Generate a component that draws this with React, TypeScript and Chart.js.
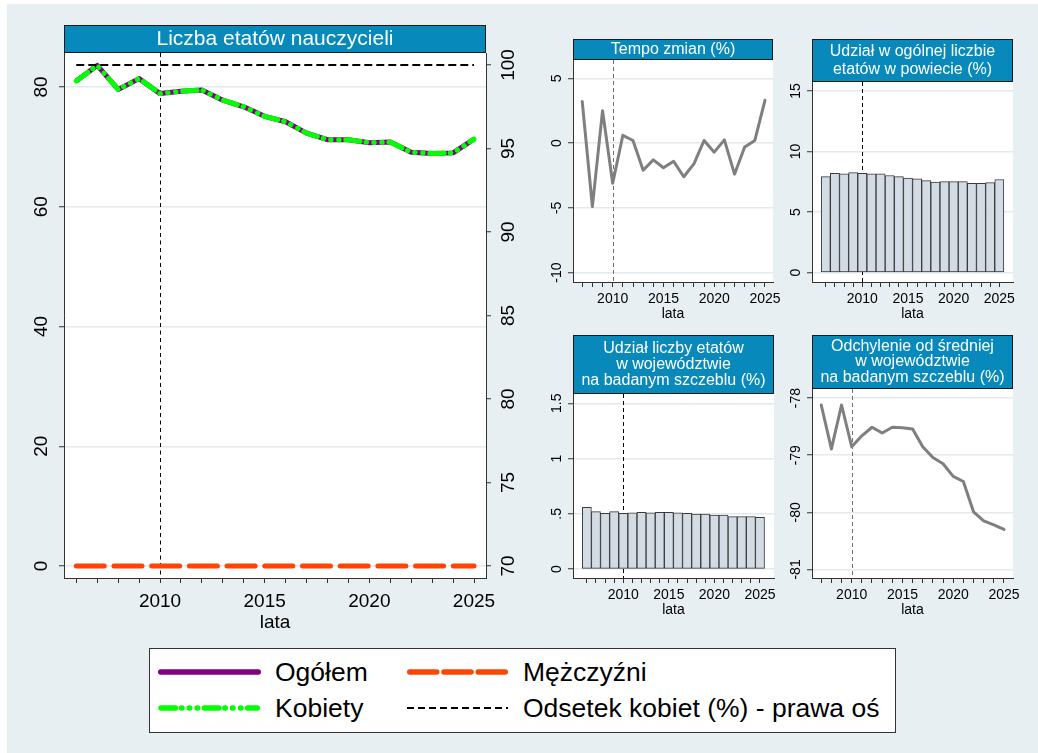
import React, { useEffect, useRef } from 'react';
import { Chart, registerables } from 'chart.js';

Chart.register(...registerables);

const FONT = '"Liberation Sans", Arial, Helvetica, sans-serif';
Chart.defaults.font.family = FONT;
Chart.defaults.color = '#000';

// ---------------- data ----------------
const years = [2006, 2007, 2008, 2009, 2010, 2011, 2012, 2013, 2014, 2015, 2016, 2017, 2018, 2019, 2020, 2021, 2022, 2023, 2024, 2025];
const ogolem = [81.0, 83.6, 79.6, 81.4, 78.9, 79.3, 79.5, 77.8, 76.7, 75.1, 74.2, 72.3, 71.2, 71.2, 70.7, 70.8, 69.1, 68.9, 69.0, 71.3];
const kobiety = [81.0, 83.6, 79.6, 81.4, 78.9, 79.3, 79.5, 77.8, 76.7, 75.1, 74.2, 72.3, 71.2, 71.2, 70.7, 70.8, 69.1, 68.9, 69.0, 71.3];
const mezczyzni = [0, 0, 0, 0, 0, 0, 0, 0, 0, 0, 0, 0, 0, 0, 0, 0, 0, 0, 0, 0];
const odsetekKobiet = [100, 100, 100, 100, 100, 100, 100, 100, 100, 100, 100, 100, 100, 100, 100, 100, 100, 100, 100, 100];

const tempoYears = [2007, 2008, 2009, 2010, 2011, 2012, 2013, 2014, 2015, 2016, 2017, 2018, 2019, 2020, 2021, 2022, 2023, 2024, 2025];
const tempoZmian = [3.2, -4.9, 2.5, -3.1, 0.6, 0.2, -2.1, -1.3, -1.9, -1.4, -2.6, -1.6, 0.2, -0.7, 0.25, -2.4, -0.3, 0.2, 3.3];

const udzialPowiat = [7.93, 8.21, 8.15, 8.26, 8.21, 8.15, 8.15, 8.02, 7.93, 7.8, 7.74, 7.6, 7.47, 7.52, 7.52, 7.52, 7.38, 7.38, 7.44, 7.69];
const udzialWoj = [0.559, 0.52, 0.505, 0.52, 0.505, 0.508, 0.514, 0.508, 0.514, 0.514, 0.508, 0.505, 0.498, 0.498, 0.489, 0.489, 0.474, 0.474, 0.474, 0.468];

const odchYears = [2007, 2008, 2009, 2010, 2011, 2012, 2013, 2014, 2015, 2016, 2017, 2018, 2019, 2020, 2021, 2022, 2023, 2024, 2025];
const odchylenie = [-78.12, -78.89, -78.12, -78.85, -78.66, -78.51, -78.61, -78.51, -78.52, -78.54, -78.85, -79.04, -79.15, -79.37, -79.46, -79.99, -80.15, -80.22, -80.3];

const mainLeftTicks = [0, 20, 40, 60, 80];
const mainRightTicks = [70, 75, 80, 85, 90, 95, 100];
const tempoTicks = [-10, -5, 0, 5];
const powiatTicks = [0, 5, 10, 15];
const wojTicks = [0, 0.5, 1, 1.5];
const wojTickLabels = ['0', '.5', '1', '1.5'];
const odchTicks = [-81, -80, -79, -78];
const markerYear = 2010;

// ---------------- helpers ----------------
const xy = (xs: number[], ys: number[]) => xs.map((x, i) => ({ x, y: ys[i] }));

type YLab = { axis: string; side: 'left' | 'right'; values: number[]; labels: string[]; offset: number; size: number };
type DecorOpts = {
  bar: { height: number; lines: string[]; size: number; gap: number };
  vline: { color: string; dash: number[] };
  yLabels: YLab[];
};

function decorPlugin(o: DecorOpts) {
  return {
    id: 'decor',
    beforeDraw(chart: any) {
      const { ctx, chartArea: a } = chart;
      ctx.save();
      ctx.fillStyle = '#ffffff';
      ctx.fillRect(a.left, a.top, a.right - a.left, a.bottom - a.top);
      ctx.restore();
    },
    beforeDatasetsDraw(chart: any) {
      const { ctx, chartArea: a } = chart;
      const x = chart.scales.x.getPixelForValue(markerYear);
      ctx.save();
      ctx.strokeStyle = o.vline.color;
      ctx.lineWidth = 1;
      ctx.setLineDash(o.vline.dash);
      ctx.beginPath();
      ctx.moveTo(Math.round(x) + 0.5, a.top);
      ctx.lineTo(Math.round(x) + 0.5, a.bottom);
      ctx.stroke();
      ctx.restore();
    },
    afterDraw(chart: any) {
      const { ctx, chartArea: a } = chart;
      // title bar
      const b = o.bar;
      const top = a.top - b.height;
      ctx.save();
      ctx.fillStyle = '#0789bb';
      ctx.fillRect(a.left, top, a.right - a.left, b.height);
      ctx.strokeStyle = '#1a1a1a';
      ctx.lineWidth = 1;
      ctx.strokeRect(a.left + 0.5, top + 0.5, a.right - a.left - 1, b.height - 1);
      ctx.fillStyle = '#ffffff';
      ctx.font = `${b.size}px ${FONT}`;
      ctx.textAlign = 'center';
      ctx.textBaseline = 'middle';
      const cx = (a.left + a.right) / 2;
      const n = b.lines.length;
      b.lines.forEach((t, i) => {
        ctx.fillText(t, cx, top + b.height / 2 + (i - (n - 1) / 2) * b.gap);
      });
      ctx.restore();
      // rotated y tick labels
      for (const s of o.yLabels) {
        const sc = chart.scales[s.axis];
        ctx.save();
        ctx.font = `${s.size}px ${FONT}`;
        ctx.fillStyle = '#000';
        ctx.textAlign = 'center';
        ctx.textBaseline = 'middle';
        s.values.forEach((v, i) => {
          const y = sc.getPixelForValue(v);
          const x = s.side === 'left' ? a.left - s.offset : a.right + s.offset;
          ctx.save();
          ctx.translate(x, y);
          ctx.rotate(-Math.PI / 2);
          ctx.fillText(s.labels[i], 0, 0);
          ctx.restore();
        });
        ctx.restore();
      }
    },
  };
}

function xScale(min: number, max: number, ticks: number[], size: number, pad: number, axisH: number) {
  return {
    type: 'linear',
    position: 'bottom',
    min,
    max,
    offset: false,
    afterBuildTicks: (s: any) => {
      s.ticks = ticks.map((v) => ({ value: v }));
    },
    afterFit: (s: any) => {
      s.height = axisH;
    },
    grid: { display: true, offset: false, drawOnChartArea: false, drawTicks: true, tickLength: 5, tickColor: '#333', tickWidth: 1 },
    border: { display: true, color: '#333', width: 1 },
    ticks: {
      autoSkip: false,
      maxRotation: 0,
      minRotation: 0,
      padding: pad,
      color: '#000',
      font: { size, family: FONT },
      callback: (v: any) => (Number(v) % 5 === 0 ? String(v) : ''),
    },
    title: { display: true, text: 'lata', color: '#000', font: { size, family: FONT }, padding: { top: 0, bottom: 0 } },
  };
}

function yScale(min: number, max: number, ticks: number[], width: number, position: string, gridOn: boolean) {
  return {
    type: 'linear',
    position,
    min,
    max,
    afterBuildTicks: (s: any) => {
      s.ticks = ticks.map((v) => ({ value: v }));
    },
    afterFit: (s: any) => {
      s.width = width;
    },
    grid: {
      display: true,
      drawOnChartArea: gridOn,
      color: '#e2eaee',
      lineWidth: 1.5,
      drawTicks: true,
      tickLength: 5,
      tickColor: '#333',
      tickWidth: 1,
    },
    border: { display: true, color: '#333', width: 1 },
    ticks: { display: false },
  };
}

const baseOpts = {
  responsive: false,
  animation: false,
  devicePixelRatio: 1,
  events: [],
  plugins: { legend: { display: false }, tooltip: { enabled: false } },
};

// ---------------- chart configs ----------------
const SMALL_Y_W = 45;
const SMALL_X_H = 41;
const SMALL_PAD_R = 15;

function mainConfig() {
  return {
    type: 'line',
    data: {
      datasets: [
        { label: 'Odsetek kobiet (%) - prawa oś', data: xy(years, odsetekKobiet), yAxisID: 'y2', borderColor: '#000', borderWidth: 2, borderDash: [8, 4], pointRadius: 0, order: 0 },
        { label: 'Kobiety', data: xy(years, kobiety), yAxisID: 'y', borderColor: '#00ff00', borderWidth: 5, borderDash: [14.5, 6, 0.5, 7.2, 0.5, 7.5, 0.5, 6.6], borderCapStyle: 'round', borderJoinStyle: 'round', pointRadius: 0, order: 1 },
        { label: 'Mężczyźni', data: xy(years, mezczyzni), yAxisID: 'y', borderColor: '#ff4500', borderWidth: 5, borderDash: [28, 9.7], borderCapStyle: 'round', pointRadius: 0, order: 2 },
        { label: 'Ogółem', data: xy(years, ogolem), yAxisID: 'y', borderColor: '#800080', borderWidth: 5, borderJoinStyle: 'round', pointRadius: 0, order: 3 },
      ],
    },
    options: {
      ...baseOpts,
      layout: { padding: { top: 33, left: 0, right: 0, bottom: 0 } },
      scales: {
        x: xScale(2005.413, 2025.573, years, 19, 7, 56),
        y: yScale(-2.0, 85.68, mainLeftTicks, 57, 'left', true),
        y2: yScale(69.28, 100.72, mainRightTicks, 40, 'right', false),
      },
    },
    plugins: [
      decorPlugin({
        bar: { height: 28, lines: ['Liczba etatów nauczycieli'], size: 21, gap: 0 },
        vline: { color: '#000', dash: [4, 3.5] },
        yLabels: [
          { axis: 'y', side: 'left', values: mainLeftTicks, labels: mainLeftTicks.map(String), offset: 22, size: 19 },
          { axis: 'y2', side: 'right', values: mainRightTicks, labels: mainRightTicks.map(String), offset: 23, size: 19 },
        ],
      }),
    ],
  };
}

function smallLine(xs: number[], ys: number[], xmin: number, xmax: number, ymin: number, ymax: number, yt: number[], ytl: string[], bar: DecorOpts['bar']) {
  return {
    type: 'line',
    data: {
      datasets: [{ data: xy(xs, ys), borderColor: '#7f7f7f', borderWidth: 3, pointRadius: 0, borderJoinStyle: 'round', borderCapStyle: 'round' }],
    },
    options: {
      ...baseOpts,
      layout: { padding: { top: bar.height + 6, left: 0, right: SMALL_PAD_R, bottom: 0 } },
      scales: {
        x: xScale(xmin, xmax, xs, 14, 3.5, SMALL_X_H),
        y: yScale(ymin, ymax, yt, SMALL_Y_W, 'left', true),
      },
    },
    plugins: [
      decorPlugin({
        bar,
        vline: { color: '#6f6f6f', dash: [4, 3] },
        yLabels: [{ axis: 'y', side: 'left', values: yt, labels: ytl, offset: 16, size: 14 }],
      }),
    ],
  };
}

function smallBar(xs: number[], ys: number[], xmin: number, xmax: number, ymin: number, ymax: number, yt: number[], ytl: string[], bar: DecorOpts['bar']) {
  return {
    type: 'bar',
    data: {
      datasets: [
        {
          data: xy(xs, ys),
          backgroundColor: '#d3dce4',
          borderColor: '#3a3a3a',
          borderWidth: 1,
          borderSkipped: false,
          barPercentage: 1,
          categoryPercentage: 1,
        },
      ],
    },
    options: {
      ...baseOpts,
      layout: { padding: { top: bar.height + 6, left: 0, right: SMALL_PAD_R, bottom: 0 } },
      scales: {
        x: xScale(xmin, xmax, xs, 14, 3.5, SMALL_X_H),
        y: yScale(ymin, ymax, yt, SMALL_Y_W, 'left', true),
      },
    },
    plugins: [
      decorPlugin({
        bar,
        vline: { color: '#000', dash: [4, 3] },
        yLabels: [{ axis: 'y', side: 'left', values: yt, labels: ytl, offset: 16, size: 14 }],
      }),
    ],
  };
}

function ChartBox({ x, y, w, h, make }: { x: number; y: number; w: number; h: number; make: () => any }) {
  const ref = useRef<HTMLCanvasElement>(null);
  useEffect(() => {
    const c = new Chart(ref.current as HTMLCanvasElement, make());
    return () => c.destroy();
  }, []);
  return <canvas ref={ref} width={w} height={h} style={{ position: 'absolute', left: x, top: y, width: w, height: h }} />;
}

// panel boxes: chart area (L,T,R,B) + title bar height
function box(L: number, T: number, R: number, B: number, barH: number) {
  return { x: L - SMALL_Y_W, y: T - barH - 6, w: SMALL_Y_W + (R - L) + SMALL_PAD_R, h: barH + 6 + (B - T) + SMALL_X_H };
}

const tempoBar = { height: 21, lines: ['Tempo zmian (%)'], size: 16, gap: 0 };
const powiatBar = { height: 43, lines: ['Udział w ogólnej liczbie', 'etatów w powiecie (%)'], size: 16, gap: 17.3 };
const wojBar = { height: 59, lines: ['Udział liczby etatów', 'w województwie', 'na badanym szczeblu (%)'], size: 16, gap: 15.8 };
const odchBar = { height: 54, lines: ['Odchylenie od średniej', 'w województwie', 'na badanym szczeblu (%)'], size: 16, gap: 15.5 };

const bTempo = box(573, 60, 773, 282, tempoBar.height);
const bPowiat = box(812, 82, 1013, 282, powiatBar.height);
const bWoj = box(573, 394, 774, 578, wojBar.height);
const bOdch = box(812, 389, 1013, 578, odchBar.height);

function Legend() {
  const f = { fontSize: 26.5, fontFamily: FONT, fill: '#000' } as any;
  return (
    <svg width={747} height={85} style={{ position: 'absolute', left: 149, top: 648 }}>
      <rect x={0.5} y={0.5} width={746} height={84} fill="#fff" stroke="#333" strokeWidth={1} />
      <line x1={11.75} x2={109.25} y1={24} y2={24} stroke="#800080" strokeWidth={5.5} strokeLinecap="round" />
      <text x={126} y={24} dominantBaseline="central" {...f}>Ogółem</text>
      <line x1={12} x2={108.3} y1={60} y2={60} stroke="#00ff00" strokeWidth={5.5} strokeLinecap="round" strokeDasharray="14.5 6 0.5 7.2 0.5 7.5 0.5 6.6" />
      <text x={126} y={60} dominantBaseline="central" {...f}>Kobiety</text>
      <line x1={260.75} x2={356.25} y1={24} y2={24} stroke="#ff4500" strokeWidth={5.5} strokeLinecap="round" strokeDasharray="27 7.25" />
      <text x={374} y={24} dominantBaseline="central" {...f}>Mężczyźni</text>
      <line x1={258} x2={359} y1={60} y2={60} stroke="#000" strokeWidth={2} strokeDasharray="7 4" />
      <text x={374} y={60} dominantBaseline="central" {...f}>Odsetek kobiet (%) - prawa oś</text>
    </svg>
  );
}

export default function App() {
  return (
    <div style={{ position: 'absolute', left: 0, top: 0, width: 1038, height: 753, background: '#fff', overflow: 'hidden', fontFamily: FONT }}>
      <div style={{ position: 'absolute', left: 7, top: 4, right: 0, bottom: 0, background: '#e8eff2' }} />
      <ChartBox x={7} y={20} w={519} h={614} make={mainConfig} />
      <ChartBox {...bTempo} make={() => smallLine(tempoYears, tempoZmian, 2006.09, 2025.79, -10.72, 6.41, tempoTicks, tempoTicks.map(String), tempoBar)} />
      <ChartBox {...bPowiat} make={() => smallBar(years, udzialPowiat, 2004.49, 2026.5, -0.77, 15.74, powiatTicks, powiatTicks.map(String), powiatBar)} />
      <ChartBox {...bWoj} make={() => smallBar(years, udzialWoj, 2004.48, 2026.54, -0.081, 1.584, wojTicks, wojTickLabels, wojBar)} />
      <ChartBox {...bOdch} make={() => smallLine(odchYears, odchylenie, 2006.09, 2025.89, -81.15, -77.84, odchTicks, odchTicks.map(String), odchBar)} />
      <Legend />
    </div>
  );
}
